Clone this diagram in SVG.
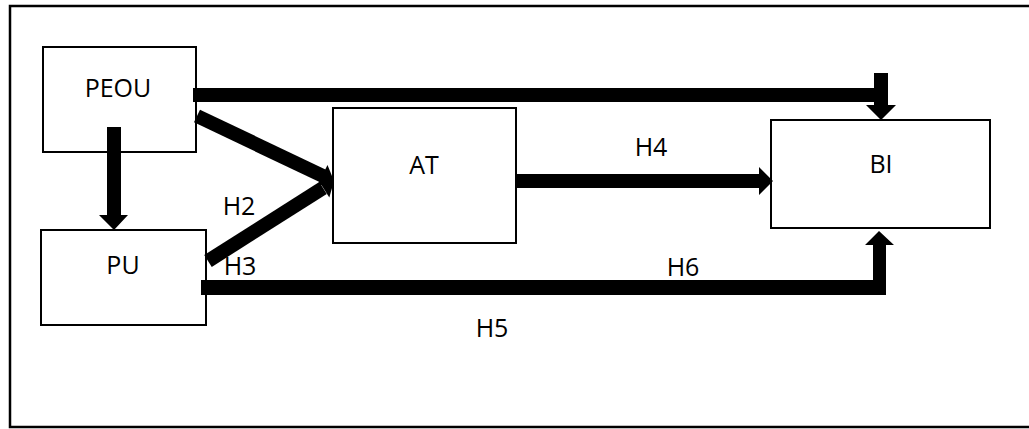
<svg xmlns="http://www.w3.org/2000/svg" width="1029" height="429" viewBox="0 0 1029 429">
  <style>
    .box { fill: #ffffff; stroke: #000000; stroke-width: 2; }
    .frame { fill: #ffffff; stroke: #000000; stroke-width: 2.5; }
    .lbl { font-family: "Open Sans", "Noto Sans", "Liberation Sans", sans-serif; font-size: 25px; fill: #000000; text-anchor: middle; }
    .conn { fill: #000000; stroke: none; }
    .bar { stroke: #000000; stroke-width: 14; stroke-linecap: butt; fill: none; }
  </style>
  <rect class="frame" x="10" y="6" width="1030" height="421"/>

  <g id="node-PEOU">
    <rect class="box" x="43" y="47" width="153" height="105"/>
    <text class="lbl" x="118" y="97">PEOU</text>
  </g>
  <g id="node-PU">
    <rect class="box" x="41" y="230" width="165" height="95"/>
    <text class="lbl" x="123" y="274">PU</text>
  </g>
  <g id="node-AT">
    <rect class="box" x="333" y="108" width="183" height="135"/>
    <text class="lbl" x="424" y="174">AT</text>
  </g>
  <g id="node-BI">
    <rect class="box" x="771" y="120" width="219" height="108"/>
    <text class="lbl" x="881" y="173">BI</text>
  </g>

  <g id="connectors">
    <path class="conn" d="M193,88 H874 V73 H888 V105 H896 L881,120 L866,105 H874 V102 H193 Z"/>
    <path class="conn" d="M107,127 H121 V215 H128 L114,230 L99,215 H107 Z"/>
    <line class="bar" x1="197" y1="116" x2="323" y2="176"/>
    <polygon class="conn" points="316.9,186.5 327.5,164.9 334,181"/>
    <line class="bar" x1="208" y1="261" x2="323" y2="188"/>
    <polygon class="conn" points="329.3,197.5 316.5,177.3 334,181"/>
    <path class="conn" d="M516,174 H759 V167 L773,181 L759,195 V188 H516 Z"/>
    <path class="conn" d="M201,280 H873 V245 H865 L879,231 L894,245 H886 V295 H201 Z"/>
  </g>

  <g id="labels">
    <text class="lbl" x="239" y="215">H2</text>
    <text class="lbl" x="240" y="275">H3</text>
    <text class="lbl" x="651" y="156">H4</text>
    <text class="lbl" x="492" y="337">H5</text>
    <text class="lbl" x="683" y="276">H6</text>
  </g>
</svg>
